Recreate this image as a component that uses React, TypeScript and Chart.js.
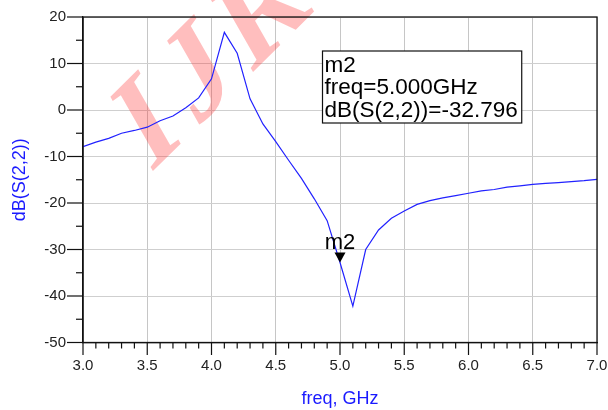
import React, { useEffect, useRef } from 'react';
import { Chart, registerables } from 'chart.js';

Chart.register(...registerables);

const freqs = [
  3.0, 3.1, 3.2, 3.3, 3.4, 3.5, 3.6, 3.7, 3.8, 3.9,
  4.0, 4.1, 4.2, 4.3, 4.4, 4.5, 4.6, 4.7, 4.8, 4.9,
  5.0, 5.1, 5.2, 5.3, 5.4, 5.5, 5.6, 5.7, 5.8, 5.9,
  6.0, 6.1, 6.2, 6.3, 6.4, 6.5, 6.6, 6.7, 6.8, 6.9, 7.0,
];
const s22dB = [
  -7.9, -6.9, -6.1, -5.0, -4.4, -3.7, -2.3, -1.3, 0.5, 2.6,
  6.7, 16.7, 12.2, 2.4, -3.0, -6.8, -10.8, -14.7, -19.1, -23.8,
  -32.796, -42.2, -30.0, -25.8, -23.3, -21.7, -20.3, -19.5, -18.9, -18.4,
  -17.9, -17.4, -17.1, -16.6, -16.3, -16.0, -15.8, -15.6, -15.4, -15.2, -14.9,
];
const markerName = 'm2';
const markerFreq = 5.0;
const markerValue = -32.796;
const xTitle = 'freq, GHz';
const yTitle = 'dB(S(2,2))';
const watermark = 'IJRASET';

const SANS = "'Liberation Sans', Arial, sans-serif";

const decor = {
  id: 'decor',
  beforeDatasetsDraw(chart: any) {
    const ctx = chart.ctx;
    ctx.save();
    ctx.translate(150, 174);
    ctx.scale(0.76, 1);
    ctx.rotate((-37 * Math.PI) / 180);
    ctx.font = "bold 142px 'Liberation Serif', 'Times New Roman', serif";
    ctx.fillStyle = 'rgba(255,40,40,0.3)';
    ctx.textBaseline = 'alphabetic';
    ctx.textAlign = 'left';
    let x = 0;
    for (const ch of watermark) {
      ctx.fillText(ch, x, 0);
      x += ctx.measureText(ch).width + 20;
    }
    ctx.restore();
  },
  afterDraw(chart: any) {
    const ctx = chart.ctx;
    const { left, right, top, bottom } = chart.chartArea;
    const xs = chart.scales.x;
    const ys = chart.scales.y;
    ctx.save();
    // frame
    ctx.strokeStyle = '#111';
    ctx.lineWidth = 1.3;
    ctx.strokeRect(left, top, right - left, bottom - top);
    // x ticks
    ctx.lineWidth = 1.2;
    for (let i = 30; i <= 70; i++) {
      const px = xs.getPixelForValue(i / 10);
      const len = i % 5 === 0 ? 12.5 : 6;
      ctx.beginPath();
      ctx.moveTo(px, bottom);
      ctx.lineTo(px, bottom + len);
      ctx.stroke();
    }
    // y ticks
    for (let v = -50; v <= 20; v += 5) {
      const py = ys.getPixelForValue(v);
      const len = v % 10 === 0 ? 16 : 7;
      ctx.beginPath();
      ctx.moveTo(left, py);
      ctx.lineTo(left - len, py);
      ctx.stroke();
    }
    // marker
    const mx = xs.getPixelForValue(markerFreq);
    const my = ys.getPixelForValue(markerValue);
    ctx.fillStyle = '#000';
    ctx.beginPath();
    ctx.moveTo(mx - 5.5, my - 10);
    ctx.lineTo(mx + 5.5, my - 10);
    ctx.lineTo(mx, my);
    ctx.closePath();
    ctx.fill();
    ctx.font = `22px ${SANS}`;
    ctx.textAlign = 'center';
    ctx.textBaseline = 'alphabetic';
    ctx.fillText(markerName, mx, my - 13.5);
    // readout box
    const lines = [
      markerName,
      `freq=${markerFreq.toFixed(3)}GHz`,
      `dB(S(2,2))=${markerValue.toFixed(3)}`,
    ];
    ctx.font = `22.5px ${SANS}`;
    ctx.textAlign = 'left';
    const bx = 322.5;
    const by = 51;
    const widths = lines.map((l) => ctx.measureText(l).width);
    const bw = Math.max(...widths) + 6;
    ctx.fillStyle = '#fff';
    ctx.fillRect(bx, by, bw, 72);
    ctx.strokeStyle = '#111';
    ctx.lineWidth = 1.2;
    ctx.strokeRect(bx, by, bw, 72);
    ctx.fillStyle = '#000';
    lines.forEach((l, i) => ctx.fillText(l, bx + 2, by + 21 + i * 22.4));
    ctx.restore();
  },
};

export default function App() {
  const ref = useRef<HTMLCanvasElement>(null);
  useEffect(() => {
    document.body.style.margin = '0';
    const chart = new Chart(ref.current as HTMLCanvasElement, {
      type: 'line',
      data: {
        datasets: [
          {
            label: yTitle,
            data: freqs.map((f, i) => ({ x: f, y: s22dB[i] })),
            borderColor: '#2222ff',
            borderWidth: 1.2,
            pointRadius: 0,
            tension: 0,
            fill: false,
          },
        ],
      },
      options: {
        animation: false,
        responsive: false,
        devicePixelRatio: 1,
        layout: { padding: { top: 17, right: 11, left: 0, bottom: 0 } },
        plugins: { legend: { display: false }, tooltip: { enabled: false } },
        scales: {
          x: {
            type: 'linear',
            min: 3,
            max: 7,
            ticks: {
              stepSize: 0.5,
              autoSkip: false,
              maxRotation: 0,
              padding: 14,
              color: '#222',
              font: { family: SANS, size: 15 },
              callback: (v: any) => Number(v).toFixed(1),
            },
            grid: { color: '#c6c6c6', lineWidth: 1, drawTicks: false },
            border: { display: true, color: '#111', width: 1.3 },
            title: {
              display: true,
              text: xTitle,
              color: '#1a1aff',
              font: { family: SANS, size: 18 },
              padding: { top: 0, bottom: 0 },
            },
            afterFit: (s: any) => {
              s.height = 67.5;
              s.paddingLeft = 0;
              s.paddingRight = 0;
            },
          },
          y: {
            type: 'linear',
            min: -50,
            max: 20,
            ticks: {
              stepSize: 10,
              padding: 17,
              color: '#222',
              font: { family: SANS, size: 15 },
            },
            grid: { color: '#cfcfcf', lineWidth: 1, drawTicks: false },
            border: { display: true, color: '#111', width: 1.3 },
            title: {
              display: true,
              text: yTitle,
              color: '#1a1aff',
              font: { family: SANS, size: 18 },
              padding: { top: 9, bottom: 0 },
            },
            afterFit: (s: any) => {
              s.width = 83;
              s.paddingTop = 0;
              s.paddingBottom = 0;
            },
          },
        },
      },
      plugins: [decor],
    } as any);
    return () => chart.destroy();
  }, []);
  return (
    <div style={{ width: 608, height: 410 }}>
      <canvas ref={ref} width={608} height={410} style={{ display: 'block', width: 608, height: 410 }} />
    </div>
  );
}
